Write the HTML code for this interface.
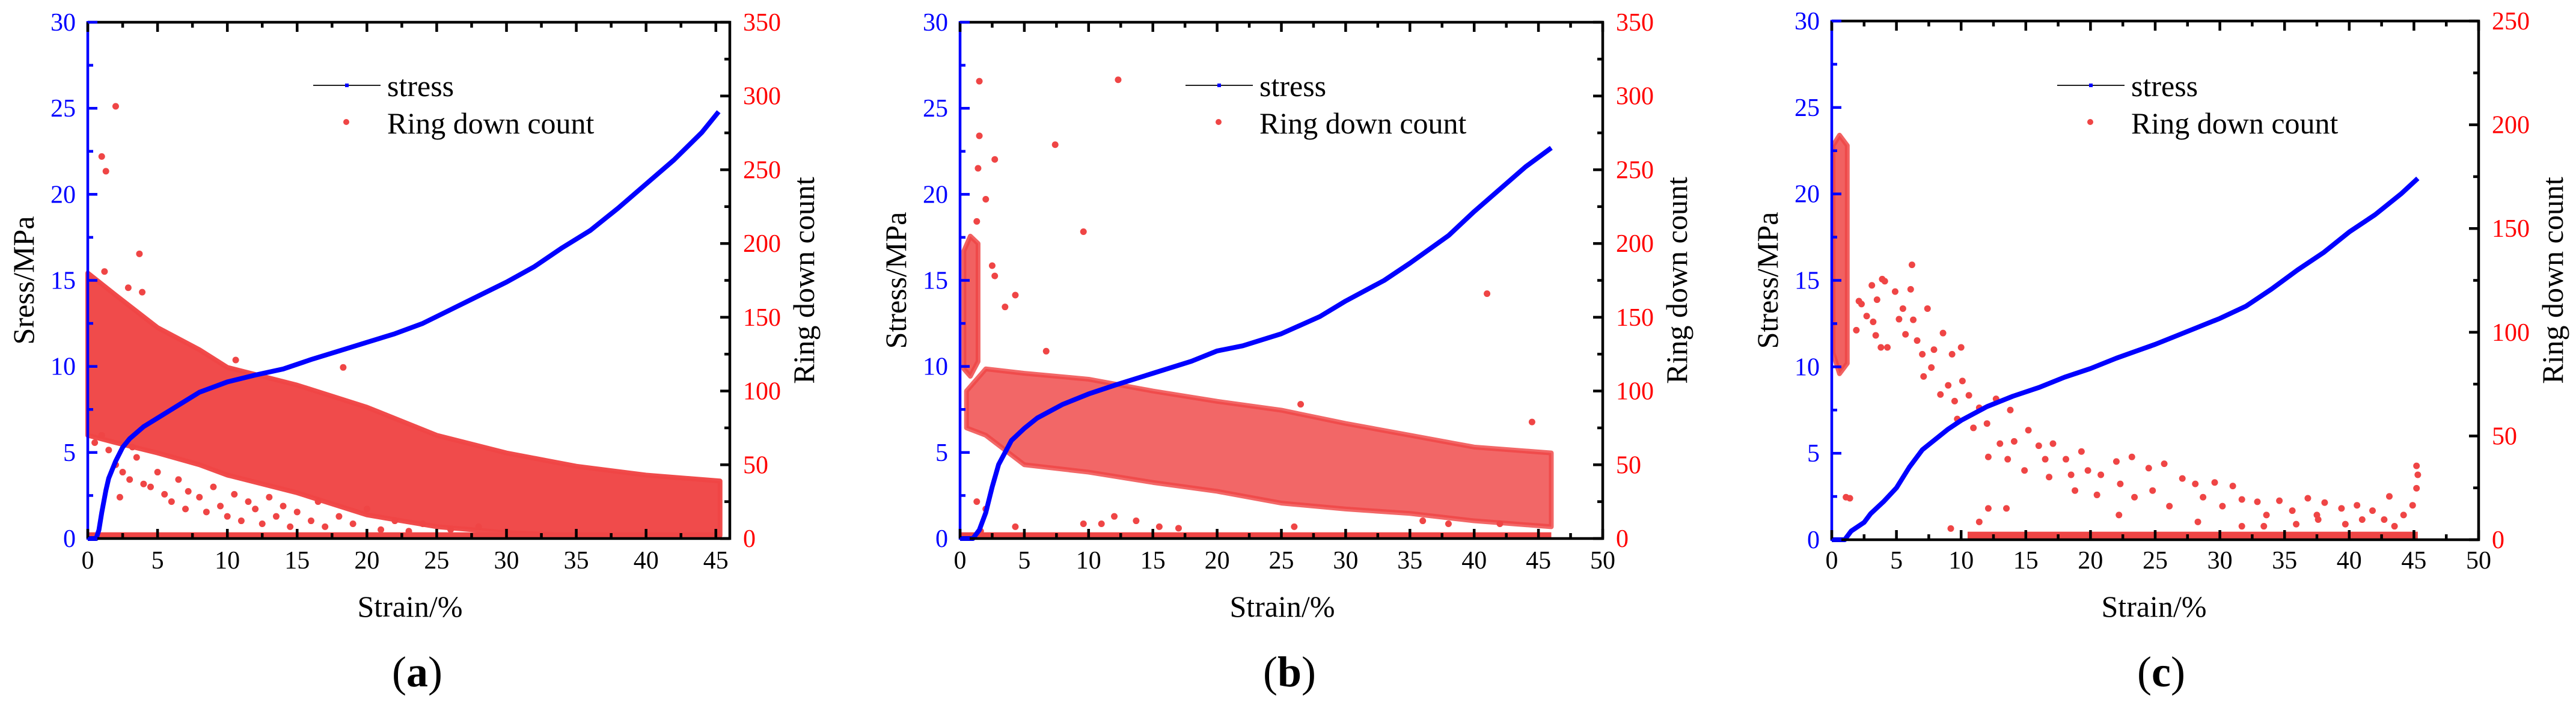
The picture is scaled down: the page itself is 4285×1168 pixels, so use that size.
<!DOCTYPE html>
<html><head><meta charset="utf-8">
<style>
html,body{margin:0;padding:0;background:#fff;}
svg{display:block;}
svg text{font-family:"Liberation Serif","Times New Roman",serif;}
</style></head>
<body>
<svg id="fig" width="4285" height="1168" viewBox="0 0 4285 1168" font-family="Liberation Serif, serif" xmlns="http://www.w3.org/2000/svg"></svg>
<script>
// ---------- Panel (a) data ----------
const aStressX = [0,0.6,0.8,1,1.3,1.5,2,2.5,3,4,5,6,7,8,10,12,14,16,18,20,22,24,26,28,30,32,34,36,38,40,42,44,45.2];
const aStressY = [0,0,0.5,1.5,2.8,3.5,4.5,5.3,5.8,6.5,7.0,7.5,8,8.5,9.1,9.5,9.85,10.4,10.9,11.4,11.9,12.5,13.3,14.1,14.9,15.8,16.9,17.9,19.2,20.6,22.0,23.6,24.8];
const aBandX  = [0,2,5,8,10,15,20,25,30,35,40,45.3];
const aBandHi = [180,165,143,128,116,104,89,70,58,49,43,39];
const aBandLo = [70,65,58,50,43,31,16,8,4,2,2,2];
const aPtX = [2,1,1.3,3.7,2.9,3.9,18.3,1.2,10.6,2,2.5,3,3.5,4,4.5,5,5.5,6,6.5,7,7.2,8,8.5,9,9.5,10,10.5,11,11.5,12,12.5,13,13.5,14,14.5,15,16,16.5,17,18,19,20,21,22,23,24,26,28,30,1.5,1,0.5,2.3,3.2];
const aPtY = [293,259,249,193,170,167,116,181,121,50,45,40,55,37,35,45,30,25,40,20,32,28,18,35,22,15,30,12,25,20,10,28,15,22,8,18,12,25,8,15,10,20,6,12,5,10,6,8,5,60,70,65,28,62];

// ---------- Panel (b) data ----------
const bStressX = [0,1,1.5,2,2.5,3,3.5,4,5,6,8,10,12,15,18,20,22,25,28,30,33,35,38,40,42,44,46];
const bStressY = [0,0,0.5,1.5,3,4.3,5,5.7,6.4,7,7.8,8.4,8.9,9.6,10.3,10.9,11.2,11.9,12.9,13.8,15,16,17.6,19,20.3,21.6,22.7];
const bBandX  = [0.5,2,5,10,15,20,25,30,35,40,46];
const bBandHi = [100,115,112,108,100,93,87,78,70,62,58];
const bBandLo = [75,70,50,45,38,32,24,20,17,12,8];
const bClusterX  = [0.3,0.8,1.4];
const bClusterHi = [195,205,200];
const bClusterLo = [115,110,120];
const bPtX = [1.5,1.5,1.4,2.7,7.4,12.3,9.6,2,1.3,41,2.5,2.7,4.3,3.5,44.5,26.5,6.7,2,1.3,1.6,4.3,9.6,11,12,13.7,15.5,17,26,36,38,42];
const bPtY = [310,273,251,257,267,311,208,230,215,166,185,178,165,157,79,91,127,20,25,5,8,10,10,15,12,8,7,8,12,10,10];

// ---------- Panel (c) data ----------
const cStressX = [0,1,1.5,2.5,3,4,5,6,7,8,9,10,12,14,16,18,20,22,25,28,30,32,34,36,38,40,42,44,45.3];
const cStressY = [0,0,0.5,1,1.5,2.2,3,4.2,5.2,5.8,6.4,6.9,7.7,8.3,8.8,9.4,9.9,10.5,11.3,12.2,12.8,13.5,14.5,15.6,16.6,17.8,18.8,20,20.9];
const cClusterX  = [0.1,0.6,1.2];
const cClusterHi = [190,195,190];
const cClusterLo = [90,80,85];
const cPtX = [3.1,3.9,4.1,3.5,2.1,2.3,2.7,3.2,1.9,3.4,3.8,4.3,4.9,5.5,5.2,5.7,6.2,6.1,6.3,6.6,7.0,7.4,7.1,7.7,7.9,8.6,8.4,9.0,9.3,10,9.5,9.7,10.1,10.6,10.95,11.4,12,12.7,12.1,13,13.8,13.6,14.1,15.2,14.9,16,16.5,17.1,16.8,18.1,18.5,19.3,19.8,18.8,20.5,20.8,22,22.3,23.2,22.2,23.4,24.5,25.7,24.8,27.1,26.1,28.1,28.7,29.6,30.2,31,31.7,32.9,33.6,34.6,35.6,36.8,37.5,38.1,39.4,40.6,41.8,43.1,42.7,44.2,44.9,45.2,45.3,45.2,39.7,33.4,35.9,31.7,28.3,37.6,41,43.5,1.1,12.1,13.5,9.2,11.4,1.4];
const cPtY = [122.6,125.6,124.6,115.7,115,113.6,107.8,105,101,98.5,92.7,92.7,119.6,111.4,106.3,99,132.5,120.7,106,96,89.4,111.4,78.7,83,91.6,99.6,70,74.4,89.4,92.7,66.8,58.2,76.5,69.6,53.9,63.6,56,67.9,39.9,46.3,62.5,38.8,47.4,52.8,33.4,45.3,38.8,46.3,30.2,38.8,31.3,42.5,33.4,23.7,21.6,31.3,37.7,26.9,39.9,11.9,20.5,34.5,36.6,23.7,29.5,16.2,26.9,20.5,27.6,16.2,25.9,19.4,18.3,11.9,18.8,14,20,11.9,17.9,15.1,16.6,14,20.9,9.7,11.9,16.6,35.6,31.3,24.8,7.5,6.5,7.5,6.5,8.6,9.7,9.7,6.5,20.5,15.1,15.1,5.4,8.6,20];

const svg = document.getElementById('fig');
const NS = 'http://www.w3.org/2000/svg';
const RED = '#ef4545', BLUE = '#0000ff';
const SERIF = '"Liberation Serif", "Times New Roman", serif';
function mk(tag, attrs, parent){
  const e = document.createElementNS(NS, tag);
  for (const k in attrs) e.setAttribute(k, attrs[k]);
  if (tag === 'text') e.setAttribute('font-family', SERIF);
  (parent||svg).appendChild(e);
  return e;
}

function panel(cfg){
  const {id,L,R,T,B,xMax,xTickMax,rMax,yLabel,letter} = cfg;
  const g = mk('g',{});
  
  
  const sx = v => L + v/xMax*(R-L);
  const sy = v => B - v/30*(B-T);
  const sr = v => B - v/rMax*(B-T);
  function band(xs,hi,lo,name,op){
    let pts = xs.map((x,i)=>sx(x)+','+sr(hi[i]));
    for (let i=xs.length-1;i>=0;i--) pts.push(sx(xs[i])+','+sr(lo[i]));
    const p = mk('polygon',{points:pts.join(' '),fill:RED,'fill-opacity':op,stroke:RED,'stroke-width':8,'stroke-opacity':op,'stroke-linejoin':'round'},g);
    
    
  }
  if (cfg.bandX) band(cfg.bandX,cfg.bandHi,cfg.bandLo,'ring-count-cloud',cfg.bandOp);
  if (cfg.clX) band(cfg.clX,cfg.clHi,cfg.clLo,'ring-count-cluster',0.85);
  const strip = mk('rect',{x:sx(cfg.stripFrom),y:sr(3)-3,width:sx(cfg.stripTo)-sx(cfg.stripFrom),height:B-sr(3)+1,fill:RED},g);
  
  
  cfg.ptX.forEach((x,i)=>{
    const c = mk('circle',{cx:sx(x),cy:sr(cfg.ptY[i]),r:5.5,fill:RED},g);
    
    
  });
  const sp = cfg.sX.map((x,i)=>sx(x)+','+sy(cfg.sY[i])).join(' ');
  const line = mk('polyline',{points:sp,fill:'none',stroke:BLUE,'stroke-width':8,'stroke-linejoin':'round'},g);
  
  
  const fr = mk('path',{d:`M${L},${B} L${R},${B} L${R},${T} L${L},${T}`,fill:'none',stroke:'#000','stroke-width':4.5},g);
  
  
  const la = mk('line',{x1:L,y1:B+2,x2:L,y2:T-2,stroke:BLUE,'stroke-width':4.5},g);
  
  
  for (let v=0; v<=xMax+0.01; v+=2.5){
    const major = Math.abs(v%5)<0.01, len = major?16:9, x = sx(v);
    mk('line',{x1:x,y1:B,x2:x,y2:B-len,stroke:'#000','stroke-width':4.5},g);
    mk('line',{x1:x,y1:T,x2:x,y2:T+len,stroke:'#000','stroke-width':4.5},g);
    if (major && v<=xTickMax){
      const t = mk('text',{x:x,y:946,'text-anchor':'middle','font-size':42,fill:'#000'},g);
      t.textContent = v;
      
      
    }
  }
  for (let v=0; v<=30; v+=2.5){
    const major = v%5===0, y = sy(v);
    mk('line',{x1:L,y1:y,x2:L+(major?16:9),y2:y,stroke:BLUE,'stroke-width':4.5},g);
    if (major){
      const t = mk('text',{x:L-20,y:y+14,'text-anchor':'end','font-size':42,fill:BLUE},g);
      t.textContent = v;
      
      
    }
  }
  for (let v=0; v<=rMax; v+=25){
    const major = v%50===0, y = sr(v);
    mk('line',{x1:R,y1:y,x2:R-(major?16:9),y2:y,stroke:'#000','stroke-width':4.5},g);
    if (major){
      const t = mk('text',{x:R+22,y:y+14,'font-size':42,fill:'#ff0000'},g);
      t.textContent = v;
      
      
    }
  }
  const yl = mk('text',{x:0,y:0,transform:`translate(${L-90},${(T+B)/2}) rotate(-90)`,'text-anchor':'middle','font-size':50,fill:'#000'},g);
  yl.textContent = yLabel;
  
  
  const rl = mk('text',{x:0,y:0,transform:`translate(${R+140},${(T+B)/2}) rotate(-90)`,'text-anchor':'middle','font-size':50,fill:'#000'},g);
  rl.textContent = 'Ring down count';
  
  
  const xl = mk('text',{x:L+536,y:1026,'text-anchor':'middle','font-size':50,fill:'#000'},g);
  xl.textContent = 'Strain/%';
  
  
  const cap = mk('text',{x:L+548,y:1142,'text-anchor':'middle','font-size':72,fill:'#000'},g);
  cap.innerHTML = '(<tspan font-weight="bold">'+letter+'</tspan>)';
  
  
  const lg = mk('g',{},g);
  
  
  mk('line',{x1:L+375,y1:142,x2:L+487,y2:142,stroke:'#222','stroke-width':2},lg);
  mk('rect',{x:L+428,y:139,width:6,height:6,fill:BLUE},lg);
  const t1 = mk('text',{x:L+498,y:160,'font-size':50,fill:'#000'},lg);
  t1.textContent = 'stress';
  
  
  mk('circle',{cx:L+430,cy:203,r:5,fill:RED},lg);
  const t2 = mk('text',{x:L+498,y:222,'font-size':50,fill:'#000'},lg);
  t2.textContent = 'Ring down count';
  
  
}

panel({id:'a',L:146,R:1214,T:37,B:896,xMax:46,xTickMax:45,rMax:350,yLabel:'Sress/MPa',letter:'a',
  sX:aStressX,sY:aStressY,bandX:aBandX,bandHi:aBandHi,bandLo:aBandLo,bandOp:0.97,
  stripFrom:0,stripTo:45.3,ptX:aPtX,ptY:aPtY});
panel({id:'b',L:1597,R:2666,T:37,B:896,xMax:50,xTickMax:50,rMax:350,yLabel:'Stress/MPa',letter:'b',
  sX:bStressX,sY:bStressY,bandX:bBandX,bandHi:bBandHi,bandLo:bBandLo,bandOp:0.82,
  clX:bClusterX,clHi:bClusterHi,clLo:bClusterLo,
  stripFrom:0,stripTo:46,ptX:bPtX,ptY:bPtY});
panel({id:'c',L:3047,R:4123,T:35,B:898,xMax:50,xTickMax:50,rMax:250,yLabel:'Stress/MPa',letter:'c',
  sX:cStressX,sY:cStressY,clX:cClusterX,clHi:cClusterHi,clLo:cClusterLo,
  stripFrom:10.5,stripTo:45.3,ptX:cPtX,ptY:cPtY});
</script>
</body></html>
